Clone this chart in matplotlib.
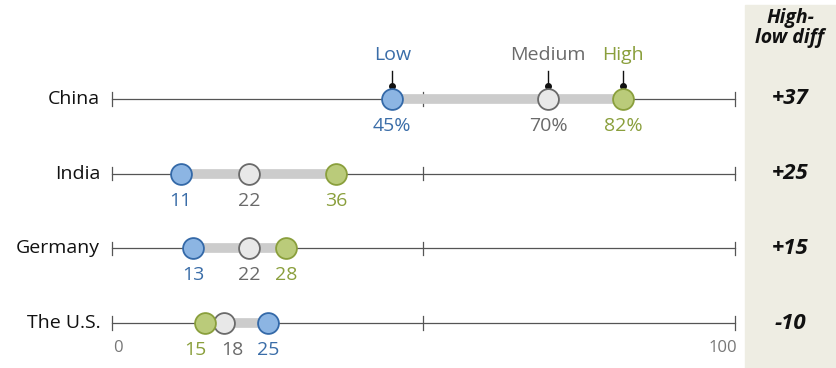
import numpy as np
import matplotlib.pyplot as plt
from matplotlib.patches import Rectangle

plt.rcParams['font.family'] = ['Open Sans', 'DejaVu Sans']

countries = ['China', 'India', 'Germany', 'The U.S.']
low = [45, 11, 13, 25]
medium = [70, 22, 22, 18]
high = [82, 36, 28, 15]
diff_labels = ['+37', '+25', '+15', '-10']
tick_values = [0, 50, 100]

c_low, e_low, t_low = '#8CB5E3', '#3469A8', '#3A6DA8'
c_med, e_med, t_med = '#E8E8E8', '#6A6A6A', '#6A6A6A'
c_high, e_high, t_high = '#BACB7A', '#8A9F3C', '#8A9F3C'

# label nudges (in x units) where the dots sit too close together
nudge = {(3, 'high'): -1.6, (3, 'med'): 1.3}

fig = plt.figure(figsize=(8.37, 3.68), dpi=100)
# axes covering the whole figure; x in percent, y in row units
ax = fig.add_axes([0, 0, 1, 1])
px = 100 / 623.0
ax.set_xlim(-112 * px, (837 - 112) * px)
row_h = 74.7
ax.set_ylim((368 - 99) / row_h, -99 / row_h)
ax.axis('off')

# shaded diff column
ax.add_patch(Rectangle((745 / 837, 0), 92 / 837, 363 / 368,
                       transform=fig.transFigure, color='#EEEDE3', zorder=0))
fig.text(790 / 837, 1 - 8 / 368, 'High-\nlow diff', ha='center', va='top',
         fontsize=14, fontweight='bold', style='italic', color='#111111',
         linespacing=1.0)

for i, name in enumerate(countries):
    ax.plot([0, 100], [i, i], color='#555555', lw=0.9, zorder=1)
    for t in tick_values:
        ax.plot([t, t], [i - 0.09, i + 0.09], color='#555555', lw=0.9, zorder=1)
    vals = [low[i], medium[i], high[i]]
    ax.plot([min(vals), max(vals)], [i, i], color='#CCCCCC', lw=7,
            solid_capstyle='butt', zorder=2)
    for key, v, fc, ec, tc in [('low', low[i], c_low, e_low, t_low),
                               ('med', medium[i], c_med, e_med, t_med),
                               ('high', high[i], c_high, e_high, t_high)]:
        ax.plot(v, i, 'o', ms=15, mfc=fc, mec=ec, mew=1.3, zorder=3)
        txt = f'{v}%' if i == 0 else f'{v}'
        ax.text(v + nudge.get((i, key), 0), i + 0.36, txt, ha='center',
                va='center', fontsize=14, color=tc)
    ax.text(-1.9, i, name, ha='right', va='center', fontsize=14,
            color='#111111')
    ax.text((790 - 112) * px, i, diff_labels[i], ha='center', va='center',
            fontsize=16, fontweight='bold', style='italic', color='#111111')

# series labels with leader lines above the first row
for v, name, tc in [(low[0], 'Low', t_low), (medium[0], 'Medium', t_med),
                    (high[0], 'High', t_high)]:
    ax.plot([v, v], [-0.17, -0.38], color='#111111', lw=1, zorder=2)
    ax.plot(v, -0.17, 'o', ms=4, color='#111111', zorder=2)
    ax.text(v, -0.59, name, ha='center', va='center', fontsize=14, color=tc)

for t in [0, 100]:
    ax.text(t + (1 if t == 0 else -2), 3.33, str(t), ha='center', va='center',
            fontsize=12, color='#777777')

fig.savefig('out.png', dpi=100)
